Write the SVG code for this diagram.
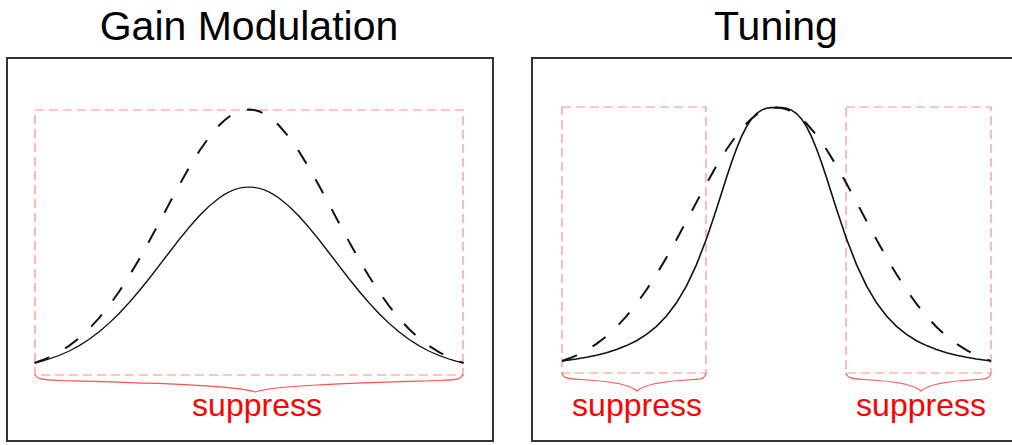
<svg xmlns="http://www.w3.org/2000/svg" xmlns:xlink="http://www.w3.org/1999/xlink" width="1012" height="445" viewBox="0 0 1012 445">
<style>
.frame{fill:none;stroke:#333;stroke-width:2}
.title{font-family:"Liberation Sans",Arial,sans-serif;font-size:41px;fill:#000;text-anchor:middle}
.zone{fill:none;stroke:#ff8a8a;stroke-width:1.2;stroke-dasharray:9 5}
.brace{fill:none;stroke:#ff5050;stroke-width:1.2}
.lbl{font-family:"Liberation Sans",Arial,sans-serif;font-size:32px;fill:#ff0000;text-anchor:middle}
.dash{fill:none;stroke:#111;stroke-width:2;stroke-dasharray:16 18}
.solid{fill:none;stroke:#111;stroke-width:1.6}
</style>
<defs>
<path id="gauss" d="M-214.5,0 L-207,-2.7 L-200,-5.65 L-190,-10.8 L-180,-17.1 L-170,-24.8 L-160,-34 L-150,-44.8 L-140,-57.2 L-130,-71.2 L-120,-86.7 L-110,-103.5 L-100,-121.4 L-90,-140 L-80,-158.9 L-70,-177.4 L-60,-195.2 L-50,-211.5 L-40,-225.8 L-30,-237.5 L-25,-242.3 L-20,-246.3 L-15,-249.4 L-10,-251.7 L-5,-253 L0,-253.5 L5,-253 L10,-251.7 L15,-249.4 L20,-246.3 L25,-242.3 L30,-237.5 L40,-225.8 L50,-211.5 L60,-195.2 L70,-177.4 L80,-158.9 L90,-140 L100,-121.4 L110,-103.5 L120,-86.7 L130,-71.2 L140,-57.2 L150,-44.8 L160,-34 L170,-24.8 L180,-17.1 L190,-10.8 L200,-5.65 L207,-2.7 L214.5,0"/>
<path id="tuned" d="M-214.5,0 L-200,-2 L-190,-3.7 L-180,-5.8 L-170,-8.3 L-160,-11.5 L-150,-15.4 L-140,-20.3 L-130,-26.6 L-120,-34.6 L-110,-44.9 L-100,-58.2 L-90,-75.1 L-80,-96.4 L-70,-122.3 L-65,-136.9 L-60,-152.1 L-55,-167.8 L-50,-183.4 L-45,-198.4 L-40,-212.3 L-35,-224.4 L-30,-234.4 L-25,-242.1 L-20,-247.5 L-15,-250.9 L-10,-252.7 L-5,-253.4 L0,-253.5 L5,-253.4 L10,-252.7 L15,-250.9 L20,-247.5 L25,-242.1 L30,-234.4 L35,-224.4 L40,-212.3 L45,-198.4 L50,-183.4 L55,-167.8 L60,-152.1 L65,-136.9 L70,-122.3 L80,-96.4 L90,-75.1 L100,-58.2 L110,-44.9 L120,-34.6 L130,-26.6 L140,-20.3 L150,-15.4 L160,-11.5 L170,-8.3 L180,-5.8 L190,-3.7 L200,-2 L214.5,0"/>
</defs>
<rect width="1012" height="445" fill="#fff"/>
<g id="panel-gain">
  <rect class="frame" x="7" y="58" width="486" height="383"/>
  <text class="title" x="249" y="40">Gain Modulation</text>
  <rect class="zone" x="35" y="110" width="428" height="265"/>
  <use href="#gauss" xlink:href="#gauss" class="dash" transform="translate(249,363)"/>
  <g transform="translate(249,363) scale(1,0.6943)">
    <use href="#gauss" xlink:href="#gauss" class="solid" vector-effect="non-scaling-stroke" style="vector-effect:non-scaling-stroke"/>
  </g>
  <path class="brace" d="M35,374 C36,379 42,380 60,380.5 C150,383 235,385 255,392 C275,385 360,383 440,380.5 C458,380 462,379 463,374"/>
  <text class="lbl" x="257" y="416">suppress</text>
</g>
<g id="panel-tuning">
  <rect class="frame" x="532" y="58" width="490" height="383"/>
  <text class="title" x="776" y="40">Tuning</text>
  <rect class="zone" x="562" y="107" width="144" height="266"/>
  <rect class="zone" x="846" y="107" width="145" height="266"/>
  <use href="#gauss" xlink:href="#gauss" class="dash" transform="translate(776.5,361)"/>
  <use href="#tuned" xlink:href="#tuned" class="solid" transform="translate(776.5,361)"/>
  <path class="brace" d="M562,373 C563,378 568,379 580,379.5 C610,381 630,384 637,391 C644,384 664,381 694,379.5 C703,379 705,378 706,373"/>
  <path class="brace" d="M846,373 C847,378 852,379 864,379.5 C894,381 914,384 921,391 C928,384 948,381 978,379.5 C987,379 990,378 991,373"/>
  <text class="lbl" x="637" y="416">suppress</text>
  <text class="lbl" x="921" y="416">suppress</text>
</g>
</svg>
